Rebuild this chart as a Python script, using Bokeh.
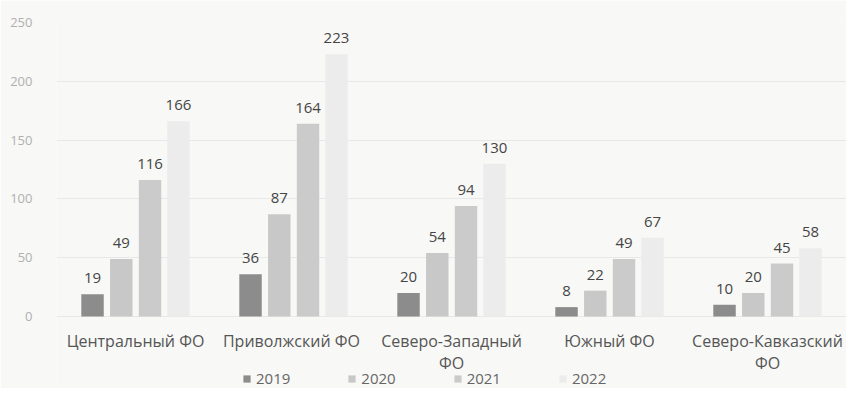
from bokeh.plotting import figure
from bokeh.models import Range1d, FixedTicker, Legend, LegendItem
from bokeh.core.properties import value
from bokeh.embed import file_html
from bokeh.resources import INLINE

districts = ["Центральный ФО", "Приволжский  ФО", "Северо-Западный\nФО", "Южный ФО", "Северо-Кавказский\nФО"]
years = ["2019", "2020", "2021", "2022"]
v2019 = [19, 36, 20, 8, 10]
v2020 = [49, 87, 54, 22, 20]
v2021 = [116, 164, 94, 49, 45]
v2022 = [166, 223, 130, 67, 58]
series = [v2019, v2020, v2021, v2022]
y_ticks = [0, 50, 100, 150, 200, 250]

colors = ["#8c8c8c", "#c8c8c8", "#cbcbcb", "#ececec"]
offsets = [-0.272, -0.09, 0.092, 0.272]
FONT = "Open Sans"
BG = "#f8f8f6"

# frame extends below zero so category labels and legend are drawn inside it
Y_MIN, Y_MAX = -61.2, 250
p = figure(width=846, height=388, output_backend="svg", toolbar_location=None,
           x_range=Range1d(0, len(districts)), y_range=Range1d(Y_MIN, Y_MAX),
           min_border_left=56, min_border_right=0, min_border_top=22, min_border_bottom=0,
           background_fill_color=BG, border_fill_color=BG, outline_line_color=None)

centers = [i + 0.5 for i in range(len(districts))]
bar_r = []
for vals, col, off in zip(series, colors, offsets):
    xs = [c + off for c in centers]
    bar_r.append(p.vbar(x=xs, top=vals, width=0.142, fill_color=col, line_color=None))
    p.text(x=xs, y=vals, text=[str(v) for v in vals], text_align="center",
           text_baseline="bottom", y_offset=-11, text_font=value(FONT),
           text_font_size="15px", text_color="#454545")

# category labels
p.text(x=centers, y=[0] * len(centers), text=districts, text_align="center",
       text_baseline="top", y_offset=13, text_font=value(FONT), text_font_size="16px",
       text_color="#555555", text_line_height=1.0)

# y axis
p.yaxis.ticker = FixedTicker(ticks=y_ticks)
p.yaxis.axis_line_color = None
p.yaxis.major_tick_line_color = None
p.yaxis.minor_tick_line_color = None
p.yaxis.major_label_standoff = 18
p.yaxis.major_label_text_font = FONT
p.yaxis.major_label_text_font_size = "13px"
p.yaxis.major_label_text_color = "#b0b0b0"

p.ygrid.ticker = FixedTicker(ticks=y_ticks)
p.ygrid.grid_line_color = "#e8e8e8"
p.xgrid.grid_line_color = None
p.xaxis.visible = False

legend = Legend(items=[LegendItem(label=y, renderers=[r]) for y, r in zip(years, bar_r)],
                orientation="horizontal", location=(186, 0),
                background_fill_alpha=0, border_line_color=None,
                glyph_width=9, glyph_height=9, label_height=14, label_standoff=5, spacing=57,
                padding=0, margin=0,
                label_text_font=FONT, label_text_font_size="15px", label_text_color="#666666")
p.add_layout(legend, "center")

open("out.html", "w").write(file_html(p, INLINE))
